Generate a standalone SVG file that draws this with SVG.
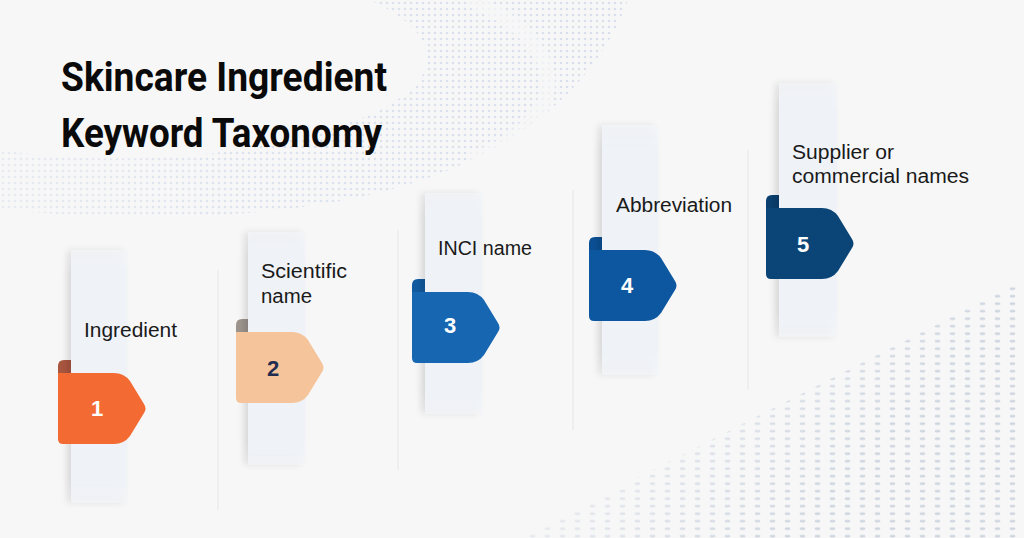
<svg xmlns="http://www.w3.org/2000/svg" width="1024" height="538" viewBox="0 0 1024 538">
  <defs>
    <pattern id="dotsTop" width="6" height="6" patternUnits="userSpaceOnUse">
      <circle cx="3" cy="3" r="1.3" fill="#d9e0eb"/>
    </pattern>
    <pattern id="dotsBR" width="15" height="7.5" patternUnits="userSpaceOnUse">
      <ellipse cx="7.5" cy="3.75" rx="3" ry="1.3" fill="#cfd6e0"/>
    </pattern>
    <linearGradient id="brFade" x1="600" y1="330" x2="800" y2="520" gradientUnits="userSpaceOnUse">
      <stop offset="0" stop-color="#fff" stop-opacity="0.1"/>
      <stop offset="1" stop-color="#fff" stop-opacity="1"/>
    </linearGradient>
    <mask id="brMask" maskUnits="userSpaceOnUse" x="0" y="0" width="1024" height="538">
      <rect x="0" y="0" width="1024" height="538" fill="url(#brFade)"/>
    </mask>
    <linearGradient id="topFade" x1="600" y1="0" x2="0" y2="200" gradientUnits="userSpaceOnUse">
      <stop offset="0" stop-color="#fff" stop-opacity="1"/>
      <stop offset="0.6" stop-color="#fff" stop-opacity="0.9"/>
      <stop offset="1" stop-color="#fff" stop-opacity="0.55"/>
    </linearGradient>
    <mask id="topMask" maskUnits="userSpaceOnUse" x="0" y="0" width="1024" height="538">
      <rect x="0" y="0" width="1024" height="538" fill="url(#topFade)"/>
    </mask>
    <linearGradient id="panelGrad" x1="0" y1="0" x2="0" y2="1">
      <stop offset="0" stop-color="#f1f4f8" stop-opacity="0.6"/>
      <stop offset="0.1" stop-color="#eff3f8"/>
      <stop offset="0.9" stop-color="#eff3f8"/>
      <stop offset="1" stop-color="#f1f4f8" stop-opacity="0.6"/>
    </linearGradient>
    <filter id="shadow" x="-40%" y="-10%" width="180%" height="120%">
      <feDropShadow dx="-4" dy="0" stdDeviation="3" flood-color="#000" flood-opacity="0.13"/>
    </filter>
    <path id="tagBody" d="M0,0 H56 Q66,0 72,8 L86,31 Q89,35.5 86,40 L72,63 Q66,71 56,71 H5 Q0,71 0,66 Z"/>
    <path id="tagTab" d="M0,2 V-7 Q0,-13 6,-13 H16 V2 Z"/>
  </defs>
  <style>
    .panel { fill: url(#panelGrad); filter: url(#shadow); }
    .sep { stroke: #e8e9ec; stroke-width: 1.2; }
    .label { font-family: "Liberation Sans", Arial, sans-serif; font-size: 19.5px; fill: #1a1a1a; }
    .num { font-family: "Liberation Sans", Arial, sans-serif; font-size: 22px; font-weight: bold; text-anchor: middle; }
    .title { font-family: Roboto, "Liberation Sans", Arial, sans-serif; font-size: 41px; font-weight: bold; fill: #0a0a0a; }
  </style>

  <rect x="0" y="0" width="1024" height="538" fill="#f7f7f8"/>

  <g id="background-dots">
    <path d="M370,0 L628,0 C595,90 505,172 335,202 C220,222 100,218 0,210 L0,150 C120,168 262,158 362,118 C440,86 455,40 370,0 Z" fill="url(#dotsTop)" mask="url(#topMask)"/>
    <path d="M470,0 C520,20 560,60 545,100 C530,130 500,150 470,160" fill="none" stroke="#f7f7f8" stroke-width="14" opacity="0.7"/>
    <path d="M520,538 L1024,280 L1024,538 Z" fill="url(#dotsBR)" mask="url(#brMask)"/>
  </g>

  <g id="title">
    <text class="title" x="61" y="91" textLength="326" lengthAdjust="spacingAndGlyphs">Skincare Ingredient</text>
    <text class="title" x="61" y="147" textLength="321" lengthAdjust="spacingAndGlyphs">Keyword Taxonomy</text>
  </g>

  <g id="connectors">
    <line class="sep" x1="218" y1="270" x2="218" y2="510"/>
    <line class="sep" x1="398" y1="230" x2="398" y2="470"/>
    <line class="sep" x1="573" y1="190" x2="573" y2="430"/>
    <line class="sep" x1="748" y1="150" x2="748" y2="390"/>
  </g>

  <g id="step1" transform="translate(58,373)">
    <use href="#tagTab" fill="#a9553f"/>
    <rect class="panel" x="13" y="-123" width="56" height="253"/>
    <use href="#tagBody" fill="#f36b33"/>
    <text class="num" x="39" y="43" fill="#ffffff">1</text>
    <text class="label" x="26" y="-36" textLength="93" lengthAdjust="spacingAndGlyphs">Ingredient</text>
  </g>

  <g id="step2" transform="translate(236,332)">
    <use href="#tagTab" fill="#9c948d"/>
    <rect class="panel" x="12" y="-100" width="57" height="233"/>
    <use href="#tagBody" fill="#f6c49b"/>
    <text class="num" x="37" y="44" fill="#1f2d50">2</text>
    <text class="label" x="25" y="-54" textLength="86" lengthAdjust="spacingAndGlyphs">Scientific</text>
    <text class="label" x="25" y="-29" textLength="51" lengthAdjust="spacingAndGlyphs">name</text>
  </g>

  <g id="step3" transform="translate(412,292)">
    <use href="#tagTab" fill="#125aa0"/>
    <rect class="panel" x="13" y="-99" width="57" height="221"/>
    <use href="#tagBody" fill="#1666b2"/>
    <text class="num" x="38" y="41" fill="#ffffff">3</text>
    <text class="label" x="26" y="-37" textLength="94" lengthAdjust="spacingAndGlyphs">INCI name</text>
  </g>

  <g id="step4" transform="translate(589,250)">
    <use href="#tagTab" fill="#0b4f93"/>
    <rect class="panel" x="13" y="-125" width="56" height="250"/>
    <use href="#tagBody" fill="#0d57a0"/>
    <text class="num" x="38" y="43" fill="#ffffff">4</text>
    <text class="label" x="27" y="-38" textLength="116" lengthAdjust="spacingAndGlyphs">Abbreviation</text>
  </g>

  <g id="step5" transform="translate(766,208)">
    <use href="#tagTab" fill="#0a3f6e"/>
    <rect class="panel" x="13" y="-125" width="58" height="254"/>
    <use href="#tagBody" fill="#0b4577"/>
    <text class="num" x="37" y="44" fill="#ffffff">5</text>
    <text class="label" x="26" y="-49" textLength="102" lengthAdjust="spacingAndGlyphs">Supplier or</text>
    <text class="label" x="26" y="-25" textLength="177" lengthAdjust="spacingAndGlyphs">commercial names</text>
  </g>
</svg>
